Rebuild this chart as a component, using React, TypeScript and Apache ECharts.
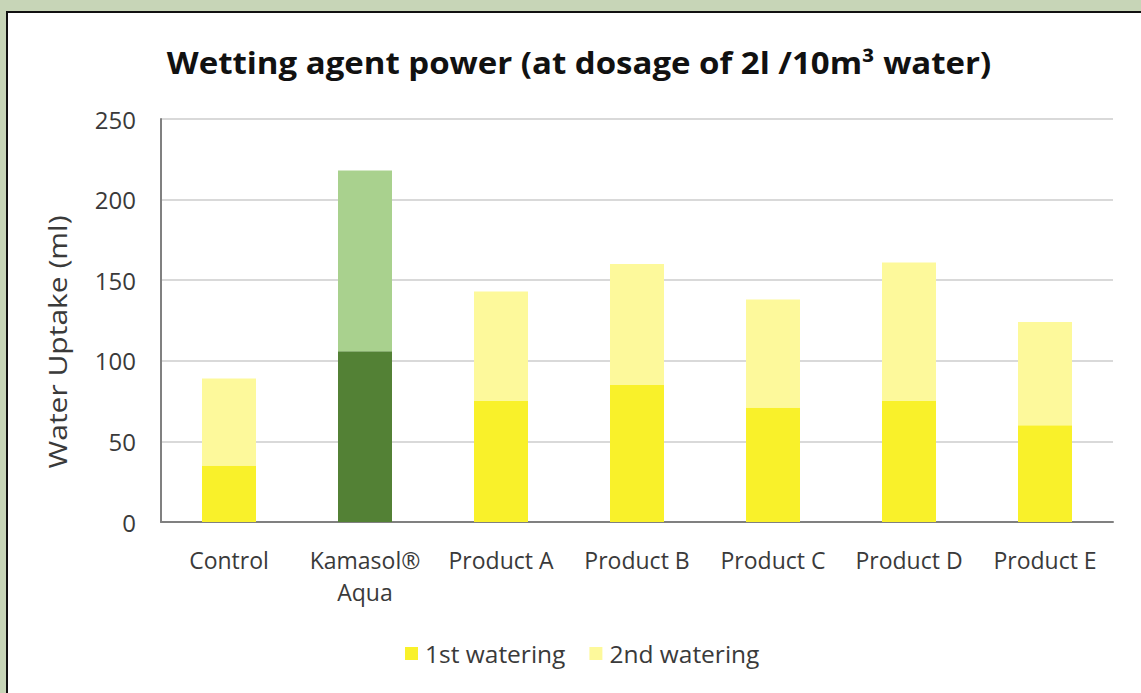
import React, { useEffect, useRef } from "react";
import * as echarts from "echarts";

const categories = ["Control", "Kamasol®\nAqua", "Product A", "Product B", "Product C", "Product D", "Product E"];
const firstWatering = [35, 106, 75, 85, 71, 75, 60];
const secondWatering = [54, 112, 68, 75, 67, 86, 64];
const yTicks = { min: 0, max: 250, interval: 50 };
const seriesNames = ["1st watering", "2nd watering"];
const highlightIndex = 1;

const FONT = "'Open Sans', 'Noto Sans', sans-serif";

export default function App() {
  const ref = useRef<HTMLDivElement>(null);
  useEffect(() => {
    if (!ref.current) return;
    const chart = echarts.init(ref.current, undefined, { renderer: "svg" });
    const firstData = firstWatering.map((v, i) =>
      i === highlightIndex ? { value: v, itemStyle: { color: "#538135" } } : v
    );
    const secondData = secondWatering.map((v, i) =>
      i === highlightIndex ? { value: v, itemStyle: { color: "#a9d18e" } } : v
    );
    chart.setOption({
      animation: false,
      grid: { left: 161, right: 28, top: 119, bottom: 171, containLabel: false },
      legend: {
        bottom: 22,
        left: 400,
        itemWidth: 13,
        itemHeight: 13,
        itemGap: 24,
        icon: "rect",
        textStyle: { fontFamily: FONT, fontSize: 24.5, color: "#3a3a3a", padding: [0, 0, 0, 2] },
        data: seriesNames,
      },
      xAxis: {
        type: "category",
        data: categories,
        axisLine: { lineStyle: { color: "#808080", width: 2 } },
        axisTick: { show: false },
        axisLabel: {
          fontFamily: FONT,
          fontSize: 23,
          color: "#3a3a3a",
          margin: 22,
          lineHeight: 32,
          interval: 0,
        },
      },
      yAxis: {
        type: "value",
        min: yTicks.min,
        max: yTicks.max,
        interval: yTicks.interval,
        axisLine: { show: true, lineStyle: { color: "#808080", width: 2 } },
        axisTick: { show: false },
        splitLine: { lineStyle: { color: "#d9d9d9", width: 2 } },
        axisLabel: { fontFamily: FONT, fontSize: 24, color: "#3a3a3a", margin: 25 },
      },
      graphic: [
        {
          type: "text",
          x: 579,
          y: 62,
          scaleX: 1.1,
          style: {
            text: "Wetting agent power (at dosage of 2l /10m³ water)",
            fontFamily: FONT,
            fontSize: 30,
            fontWeight: "bold",
            fill: "#111",
            align: "center",
            verticalAlign: "middle",
          },
        },
        {
          type: "text",
          x: 57,
          y: 342,
          rotation: Math.PI / 2,
          scaleX: 1.2,
          style: {
            text: "Water Uptake (ml)",
            fontFamily: FONT,
            fontSize: 25,
            fill: "#3a3a3a",
            align: "center",
            verticalAlign: "middle",
          },
        },
      ],
      series: [
        {
          name: seriesNames[0],
          type: "bar",
          stack: "total",
          barWidth: 54,
          itemStyle: { color: "#f9f12a" },
          data: firstData,
        },
        {
          name: seriesNames[1],
          type: "bar",
          stack: "total",
          barWidth: 54,
          itemStyle: { color: "#fdf99b" },
          data: secondData,
        },
      ],
    });
    return () => chart.dispose();
  }, []);
  return (
    <div style={{ position: "fixed", left: 0, top: 0, width: 1141, height: 693, background: "#c7d5b7", overflow: "hidden" }}>
      <div
        style={{
          position: "absolute",
          left: 6,
          top: 11,
          width: 1150,
          height: 700,
          background: "#ffffff",
          borderTop: "2px solid #111",
          borderLeft: "2px solid #111",
          boxSizing: "border-box",
        }}
      />
      <div ref={ref} style={{ position: "absolute", left: 0, top: 0, width: 1141, height: 693 }} />
    </div>
  );
}
